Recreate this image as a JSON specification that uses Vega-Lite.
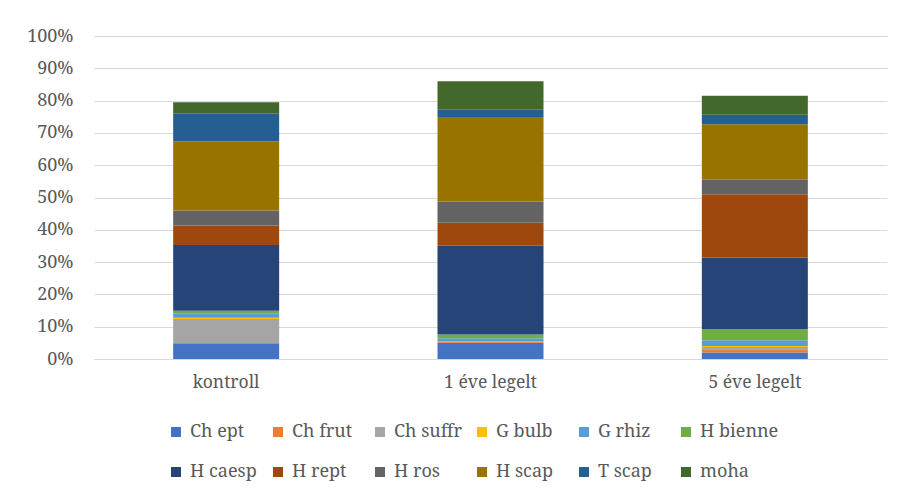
{
  "$schema": "https://vega.github.io/schema/vega-lite/v6.json",
  "autosize": {"type": "none"},
  "padding": {"left": 94, "top": 36, "right": 19, "bottom": 140},
  "width": 793,
  "height": 323,
  "background": "#ffffff",
  "data": {
    "values": [
      {"group": "kontroll", "type": "Ch ept", "value": 4.9},
      {"group": "kontroll", "type": "Ch frut", "value": 0},
      {"group": "kontroll", "type": "Ch suffr", "value": 7.5},
      {"group": "kontroll", "type": "G bulb", "value": 0.4},
      {"group": "kontroll", "type": "G rhiz", "value": 1.2},
      {"group": "kontroll", "type": "H bienne", "value": 0.9},
      {"group": "kontroll", "type": "H caesp", "value": 20.4},
      {"group": "kontroll", "type": "H rept", "value": 6.0},
      {"group": "kontroll", "type": "H ros", "value": 4.7},
      {"group": "kontroll", "type": "H scap", "value": 21.3},
      {"group": "kontroll", "type": "T scap", "value": 8.6},
      {"group": "kontroll", "type": "moha", "value": 3.6},
      {"group": "1 éve legelt", "type": "Ch ept", "value": 5.0},
      {"group": "1 éve legelt", "type": "Ch frut", "value": 0.5},
      {"group": "1 éve legelt", "type": "Ch suffr", "value": 0},
      {"group": "1 éve legelt", "type": "G bulb", "value": 0.1},
      {"group": "1 éve legelt", "type": "G rhiz", "value": 0.8},
      {"group": "1 éve legelt", "type": "H bienne", "value": 1.2},
      {"group": "1 éve legelt", "type": "H caesp", "value": 27.5},
      {"group": "1 éve legelt", "type": "H rept", "value": 7.1},
      {"group": "1 éve legelt", "type": "H ros", "value": 6.6},
      {"group": "1 éve legelt", "type": "H scap", "value": 26.1},
      {"group": "1 éve legelt", "type": "T scap", "value": 2.3},
      {"group": "1 éve legelt", "type": "moha", "value": 8.8},
      {"group": "5 éve legelt", "type": "Ch ept", "value": 2.0},
      {"group": "5 éve legelt", "type": "Ch frut", "value": 1.0},
      {"group": "5 éve legelt", "type": "Ch suffr", "value": 0.7},
      {"group": "5 éve legelt", "type": "G bulb", "value": 0.3},
      {"group": "5 éve legelt", "type": "G rhiz", "value": 1.8},
      {"group": "5 éve legelt", "type": "H bienne", "value": 3.5},
      {"group": "5 éve legelt", "type": "H caesp", "value": 22.1},
      {"group": "5 éve legelt", "type": "H rept", "value": 19.6},
      {"group": "5 éve legelt", "type": "H ros", "value": 4.5},
      {"group": "5 éve legelt", "type": "H scap", "value": 17.2},
      {"group": "5 éve legelt", "type": "T scap", "value": 2.9},
      {"group": "5 éve legelt", "type": "moha", "value": 5.9}
    ]
  },
  "mark": {"type": "bar", "width": 106},
  "encoding": {
    "x": {
      "field": "group",
      "type": "nominal",
      "sort": ["kontroll", "1 éve legelt", "5 éve legelt"],
      "scale": {"paddingInner": 0, "paddingOuter": 0},
      "axis": {
        "title": null,
        "labelAngle": 0,
        "ticks": false,
        "domain": true,
        "domainColor": "#d9d9d9",
        "domainWidth": 1,
        "labelFont": "Noto Serif",
        "labelFontSize": 17.5,
        "labelColor": "#595959",
        "labelPadding": 14,
        "grid": false
      }
    },
    "y": {
      "field": "value",
      "type": "quantitative",
      "stack": "zero",
      "scale": {"domain": [0, 100], "nice": false},
      "axis": {
        "title": null,
        "values": [0, 10, 20, 30, 40, 50, 60, 70, 80, 90, 100],
        "labelExpr": "datum.value + '%'",
        "ticks": false,
        "domain": false,
        "grid": true,
        "gridColor": "#d9d9d9",
        "gridWidth": 1,
        "labelFont": "Noto Serif",
        "labelFontSize": 18,
        "labelColor": "#595959",
        "labelPadding": 21
      }
    },
    "color": {
      "field": "type",
      "type": "nominal",
      "scale": {
        "domain": ["Ch ept", "Ch frut", "Ch suffr", "G bulb", "G rhiz", "H bienne", "H caesp", "H rept", "H ros", "H scap", "T scap", "moha"],
        "range": ["#4472C4", "#ED7D31", "#A5A5A5", "#FFC000", "#5B9BD5", "#70AD47", "#264478", "#9E480E", "#636363", "#997300", "#255E91", "#43682B"]
      },
      "legend": {
        "title": null,
        "orient": "none",
        "legendX": 73,
        "legendY": 387,
        "direction": "horizontal",
        "columns": 6,
        "gridAlign": "all",
        "symbolType": "square",
        "symbolSize": 100,
        "symbolStrokeWidth": 0,
        "labelFont": "Noto Serif",
        "labelFontSize": 18,
        "labelColor": "#595959",
        "labelOffset": 5,
        "columnPadding": -3,
        "rowPadding": 22,
        "labelLimit": 200
      }
    },
    "order": {"field": "type", "sort": "ascending"}
  },
  "config": {
    "view": {"stroke": null}
  }
}
